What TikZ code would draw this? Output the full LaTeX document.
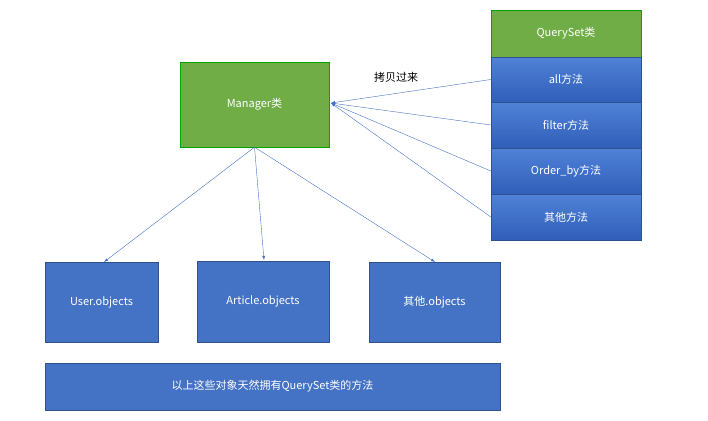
\documentclass[tikz,border=0pt]{standalone}
\usepackage{fontspec}
\setmainfont{Noto Sans CJK SC}
\begin{document}
\begin{tikzpicture}[x=1pt,y=-1pt,
  green/.style={draw=green!40!black!60!green, fill={rgb,255:red,112;green,173;blue,71}, text=white, font=\fontsize{11}{13}\selectfont},
  blue/.style={draw={rgb,255:red,47;green,82;blue,143}, top color={rgb,255:red,80;green,130;blue,215}, bottom color={rgb,255:red,48;green,94;blue,185}, text=white, font=\fontsize{11}{13}\selectfont},
  bbox/.style={draw={rgb,255:red,47;green,82;blue,143}, fill={rgb,255:red,68;green,114;blue,196}, text=white, font=\fontsize{11}{13}\selectfont},
  arr/.style={draw={rgb,255:red,68;green,114;blue,196}, -latex}]
\useasboundingbox (0,0) rectangle (708,420);
\node[green, minimum width=149, minimum height=85] (m) at (254.5,104.5) {Manager类};
\node[green, minimum width=150, minimum height=47] (q) at (566,33.5) {QuerySet类};
\node[blue, minimum width=150, minimum height=45] (a) at (566,79.5) {all方法};
\node[blue, minimum width=150, minimum height=46] (f) at (566,125) {filter方法};
\node[blue, minimum width=150, minimum height=46] (o) at (566,171) {Order\_by方法};
\node[blue, minimum width=150, minimum height=46] (t) at (566,217) {其他方法};
\node[bbox, minimum width=113, minimum height=80] (u) at (101.5,302) {User.objects};
\node[bbox, minimum width=132, minimum height=81] (ar) at (263,301.5) {Article.objects};
\node[bbox, minimum width=131, minimum height=80] (ot) at (434.5,302) {其他.objects};
\node[bbox, minimum width=455, minimum height=47] (l) at (272.5,386.5) {以上这些对象天然拥有QuerySet类的方法};
\coordinate (mt) at (331,103);
\foreach \n in {a,f,o,t} \draw[arr] (\n.west) -- (mt);
\node[font=\fontsize{11}{13}\selectfont] (c) at (396,77) {拷贝过来};
\draw[arr] (m.south) -- (104,262);
\draw[arr] (m.south) -- (264,260);
\draw[arr] (m.south) -- (435,262);
\end{tikzpicture}
\end{document}
